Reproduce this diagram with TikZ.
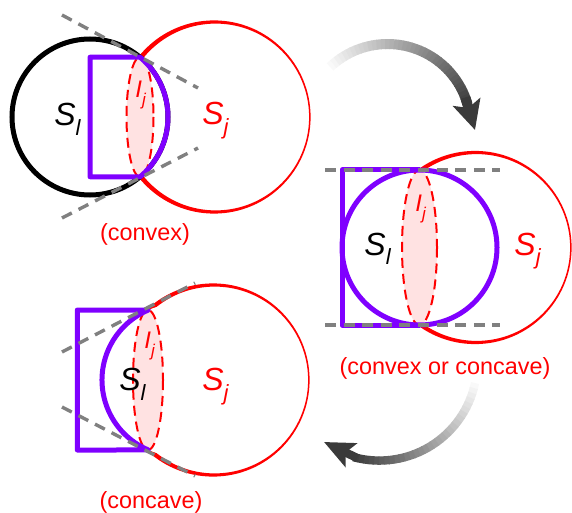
\documentclass[tikz,border=0pt]{standalone}
\usepackage{fontspec}
\setmainfont{Liberation Sans}
\usetikzlibrary{positioning,calc}
\usetikzlibrary{arrows.meta}
\definecolor{SetPurple}{RGB}{127,0,255}
\definecolor{LensPink}{RGB}{255,226,226}
\definecolor{GuideGray}{RGB}{128,128,128}
\definecolor{ArrowGray}{RGB}{58,58,58}
\tikzset{
  ring/.style={draw=black,line width=2.5pt},
  cut/.style={draw=SetPurple,line width=2.5pt,line join=round},
  guide/.style={draw=GuideGray,line width=1.7pt,dash pattern=on 5.5pt off 3.8pt},
  lens/.style={draw=red,fill=LensPink,line width=1pt,dash pattern=on 5pt off 3pt},
  sym/.style={anchor=base west,inner sep=0pt,font=\fontsize{16}{16}\selectfont\itshape},
  isym/.style={sym,text=red,font=\fontsize{12}{12}\selectfont\itshape},
  tag/.style={text=red,inner sep=0pt,font=\fontsize{11.7}{13}\selectfont},
}
\newcommand\lowsub[3]{\raisebox{#1}{\fontsize{#2}{#2}\selectfont #3}}

\begin{document}
\begin{tikzpicture}[x=0.5pt,y=-0.5pt]
\useasboundingbox (0,0) rectangle (572,513);
% convex
\coordinate (ci1) at (90,117);
\coordinate (cj1) at (214,117);
\coordinate (up1) at ($(ci1)+(-50:78)$);
\coordinate (dn1) at ($(ci1)+(50:78)$);
\fill[red,even odd rule] (cj1) circle (96.6) ($(cj1)+(1.7,0)$) circle (93.4);
\draw[ring,fill=white] (ci1) circle (78);
\draw[lens] ($(ci1)+(50,0)$) ellipse (13.5 and 59.8);
\draw[cut] (ci1 |- up1) -- (up1) arc (-50:50:78) -- (ci1 |- dn1) -- cycle;
\draw[guide] (62,15) -- (198,88);
\draw[guide] (62,218) -- (198,148);
\node[sym] (sl1) at (54,126) {S\lowsub{-5pt}{11}{l}};
\node[isym] (ij1) at (135,98) {I\lowsub{-4pt}{8.5}{j}};
\node[sym,text=red] (sj1) at (202,125) {S\lowsub{-5pt}{11}{j}};
\node[tag] (t1) at (145,234) {(convex)};
% convex or concave
\coordinate (ci2) at (419.5,247.5);
\coordinate (cj2) at (475,247.5);
\fill[red,even odd rule] (cj2) circle (96.6) ($(cj2)+(1.7,0)$) circle (93.4);
\fill[white] (ci2) circle (77.5);
\draw[lens] (ci2) ellipse (17.5 and 77.5);
\draw[cut] (ci2) circle (77.5);
\draw[cut] ($(ci2)+(0,-77.5)$) -- ++(-77.5,0) -- ++(0,155) -- ++(77.5,0);
\draw[guide] (325,170) -- (500,170);
\draw[guide] (325,325) -- (500,325);
\node[sym] (sl2) at (364,255) {S\lowsub{-5pt}{11}{l}};
\node[isym] (ij2) at (415,212) {I\lowsub{-4pt}{8.5}{j}};
\node[sym,text=red] (sj2) at (514,255) {S\lowsub{-5pt}{11}{j}};
\node[tag] (t2) at (445,368) {(convex or concave)};
% concave
\coordinate (ci3) at (178,380);
\coordinate (cj3) at (213,380);
\coordinate (up3) at ($(ci3)+(247:76)$);
\coordinate (dn3) at ($(ci3)+(113:76)$);
\fill[red,even odd rule] (cj3) circle (96.6) ($(cj3)+(1.7,0)$) circle (93.4);
\fill[white] (ci3) circle (76);
\draw[lens] ($(ci3)+(-30,0)$) ellipse (15 and 70);
\draw[cut] (up3) -- ++(-71,0) -- ++(0,140) -- (dn3) arc (113:247:76) -- cycle;
\draw[guide] (62,352) -- (195,283);
\draw[guide] (62,407) -- (195,476);
\node[sym] (sl3) at (119,390) {S\lowsub{-5pt}{11}{l}};
\node[isym] (ij3) at (144,348) {I\lowsub{-4pt}{8.5}{j}};
\node[sym,text=red] (sj3) at (202,390) {S\lowsub{-5pt}{11}{j}};
\node[tag] (t3) at (151,502) {(concave)};
% arrows
\coordinate (ta) at (387.5,127.3);
\coordinate (tipA) at (475,130);
\foreach \k in {0,...,38}{
  \pgfmathsetmacro\a{-133.6+3*\k}
  \pgfmathsetmacro\b{\a+3.4}
  \pgfmathtruncatemacro\p{3+2.5*\k}
  \draw[line width=5pt,ArrowGray!\p!white] ($(ta)+(\a:83.3)$) arc (\a:\b:83.3);
}
\draw[line width=5pt,ArrowGray,-{Stealth[length=14.5pt,width=14pt,inset=3pt]}] ($(ta)+(-21:83.3)$) -- (tipA);
\coordinate (ba) at (379.3,362.7);
\coordinate (tipB) at (324,442);
\foreach \k in {0,...,30}{
  \pgfmathsetmacro\a{12+3*\k}
  \pgfmathsetmacro\b{\a+3.4}
  \pgfmathtruncatemacro\p{3+3.2*\k}
  \draw[line width=4.2pt,ArrowGray!\p!white] ($(ba)+(\a:97.9)$) arc (\a:\b:97.9);
}
\draw[line width=4.2pt,ArrowGray,-{Stealth[length=15pt,width=13pt,inset=3pt]}] ($(ba)+(103:97.9)$) -- (tipB);
\end{tikzpicture}
\end{document}
